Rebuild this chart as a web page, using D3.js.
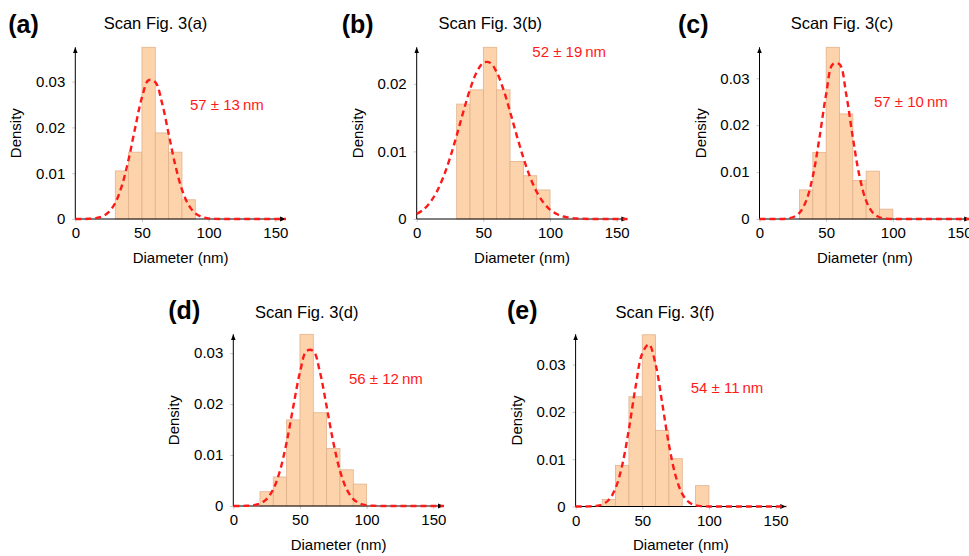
<!DOCTYPE html>
<html>
<head>
<meta charset="utf-8">
<script src="https://cdn.jsdelivr.net/npm/d3@7"></script>
<style>
  body { margin: 0; background: #fff; }
  text { font-family: "Liberation Sans", Arial, Helvetica, sans-serif; }
</style>
</head>
<body>
<div id="chart-area"></div>
<script>
// histogram bins (nm), width 10
const binStarts = [20, 30, 40, 50, 60, 70, 80, 90];
const binWidth = 10;

// densities per bin, null = no bar
const densityA = [null, 0.0105, 0.0146, 0.0375, 0.0188, 0.0146, 0.0042, null];
const densityB = [0, 0.0170, 0.0191, 0.0254, 0.0191, 0.0085, 0.0064, 0.0043];
const densityC = [null, 0.0062, 0.0142, 0.0366, 0.0224, 0.0082, 0.0102, 0.0021];
const densityD = [0.0028, 0.0057, 0.0169, 0.0337, 0.0183, 0.0113, 0.0071, 0.0043];
const densityE = [0.0015, 0.0087, 0.0232, 0.0363, 0.0161, 0.0101, 0, 0.0044];

// fitted curve, every 5 nm
const fitX = [0, 5, 10, 15, 20, 25, 30, 35, 40, 45, 50, 55, 60, 65, 70, 75, 80,
              85, 90, 95, 100, 105, 110, 115, 120, 125, 130, 135, 140, 145, 150, 155, 160];
const fitA = [0, 0, 0.00004, 0.00017, 0.00053, 0.00148, 0.00355, 0.00733, 0.01306, 0.02006, 0.02656,
              0.03034, 0.0299, 0.0254, 0.01862, 0.01177, 0.00642, 0.00302, 0.00123, 0.00043, 0.00013,
              0.00003, 0, 0, 0, 0, 0, 0, 0, 0, 0, 0, 0];
const fitB = [0.00074, 0.00139, 0.00244, 0.00402, 0.00622, 0.00905, 0.01237, 0.01589, 0.01917, 0.02172,
              0.02312, 0.02312, 0.02172, 0.01917, 0.01589, 0.01237, 0.00905, 0.00622, 0.00402, 0.00244,
              0.00139, 0.00074, 0.00037, 0.00018, 0.00008, 0.00003, 0, 0, 0, 0, 0, 0, 0];
const fitC = [0, 0, 0, 0, 0.00008, 0.00037, 0.00133, 0.00387, 0.00912, 0.01735, 0.02664, 0.0330,
              0.0330, 0.02664, 0.01735, 0.00912, 0.00387, 0.00133, 0.00037, 0.00008, 0, 0, 0, 0, 0,
              0, 0, 0, 0, 0, 0, 0, 0];
const fitD = [0, 0.00001, 0.00004, 0.00015, 0.00048, 0.00136, 0.00331, 0.00693, 0.01252, 0.01952,
              0.02625, 0.03043, 0.03043, 0.02625, 0.01952, 0.01252, 0.00693, 0.00331, 0.00136, 0.00048,
              0.00015, 0.00004, 0.00001, 0, 0, 0, 0, 0, 0, 0, 0, 0, 0];
const fitE = [0, 0, 0.00002, 0.00011, 0.00043, 0.00143, 0.0039, 0.00879, 0.0164, 0.02532, 0.03238,
              0.03427, 0.03002, 0.02177, 0.01307, 0.0065, 0.00267, 0.00091, 0.00026, 0.00006, 0.00001,
              0, 0, 0, 0, 0, 0, 0, 0, 0, 0, 0, 0];

const panelLetters = ["(a)", "(b)", "(c)", "(d)", "(e)"];
const panelTitles = ["Scan Fig. 3(a)", "Scan Fig. 3(b)", "Scan Fig. 3(c)", "Scan Fig. 3(d)", "Scan Fig. 3(f)"];
const fitLabels = ["57 \u00b1 13\u2009nm", "52 \u00b1 19\u2009nm", "57 \u00b1 10\u2009nm",
                   "56 \u00b1 12\u2009nm", "54 \u00b1 11\u2009nm"];
const xTicks = [0, 50, 100, 150];
const yTicksList = [[0, 0.01, 0.02, 0.03], [0, 0.01, 0.02], [0, 0.01, 0.02, 0.03],
                    [0, 0.01, 0.02, 0.03], [0, 0.01, 0.02, 0.03]];
const yMaxes = [0.0375, 0.0254, 0.0366, 0.0337, 0.0364];

const densities = [densityA, densityB, densityC, densityD, densityE];
const fits = [fitA, fitB, fitC, fitD, fitE];

// where each small chart sits on the page
const layout = [
    { x0: 75.3,  y0: 219,   h: 171.7, titleX: 155.5, titleY: 29.3,  letterX: 8.3,   letterY: 33,    noteX: 190,   noteY: 110 },
    { x0: 416.7, y0: 219,   h: 171.7, titleX: 490.3, titleY: 29.3,  letterX: 341.7, letterY: 33,    noteX: 532.3, noteY: 56.7 },
    { x0: 759.5, y0: 219,   h: 171.7, titleX: 842,   titleY: 29.3,  letterX: 678,   letterY: 33,    noteX: 874,   noteY: 107.3 },
    { x0: 233.3, y0: 506,   h: 171.7, titleX: 306.7, titleY: 317.7, letterX: 168.3, letterY: 319.3, noteX: 349,   noteY: 384.3 },
    { x0: 575.6, y0: 506.5, h: 172.2, titleX: 665,   titleY: 317.7, letterX: 507,   letterY: 319.3, noteX: 690.7, noteY: 392.7 }
];

let svg = d3.select("#chart-area")
    .append("svg")
        .attr("width", 969)
        .attr("height", 556);

let defs = svg.append("defs");
defs.append("marker")
    .attr("id", "arrow")
    .attr("viewBox", "0 -3 6 6")
    .attr("refX", 6)
    .attr("refY", 0)
    .attr("markerWidth", 6)
    .attr("markerHeight", 6)
    .attr("markerUnits", "userSpaceOnUse")
    .attr("orient", "auto")
  .append("path")
    .attr("d", "M0,-2.4L6,0L0,2.4Z")
    .attr("fill", "#000");

let yFormat = (d) => d === 0 ? "0" : d3.format(".2f")(d);

layout.forEach((p, i) => {
    let g = svg.append("g");

    let x = d3.scaleLinear()
        .domain([0, 150])
        .range([p.x0, p.x0 + 200]);

    let y = d3.scaleLinear()
        .domain([0, yMaxes[i]])
        .range([p.y0, p.y0 - p.h]);

    defs.append("clipPath")
        .attr("id", "clip" + i)
      .append("rect")
        .attr("x", x(0) - 3)
        .attr("y", y.range()[1] - 10)
        .attr("width", x(158) - x(0) + 3)
        .attr("height", p.h + 14);

    // tick marks + labels
    let xAxisCall = d3.axisBottom(x)
        .tickValues(xTicks)
        .tickSize(3)
        .tickPadding(5.6);
    let xg = g.append("g")
        .attr("transform", `translate(0, ${p.y0})`)
        .call(xAxisCall);

    let yAxisCall = d3.axisLeft(y)
        .tickValues(yTicksList[i])
        .tickSize(3)
        .tickPadding(7)
        .tickFormat(yFormat);
    let yg = g.append("g")
        .attr("transform", `translate(${p.x0}, 0)`)
        .call(yAxisCall);

    [xg, yg].forEach((a) => {
        a.select(".domain").remove();
        a.selectAll(".tick line").attr("stroke", "#c8c8c8");
        a.selectAll(".tick text")
            .attr("font-size", "15px")
            .attr("font-family", "'Liberation Sans', Arial, sans-serif")
            .attr("fill", "#000");
    });

    // histogram
    let bars = binStarts
        .map((b, j) => ({ start: b, density: densities[i][j] }))
        .filter((d) => d.density !== null);

    g.selectAll("rect.bar")
        .data(bars)
        .enter()
        .append("rect")
            .attr("class", "bar")
            .attr("x", (d) => x(d.start))
            .attr("y", (d) => y(d.density))
            .attr("width", (d) => x(d.start + binWidth) - x(d.start))
            .attr("height", (d) => y(0) - y(d.density))
            .attr("fill", "#fcd3aa")
            .attr("stroke", "#e2b28e")
            .attr("stroke-width", 0.8);

    // axis lines with arrows
    g.append("line")
        .attr("x1", x(0)).attr("x2", x(158))
        .attr("y1", y(0)).attr("y2", y(0))
        .attr("stroke", "#000")
        .attr("stroke-width", 1)
        .attr("marker-end", "url(#arrow)");
    g.append("line")
        .attr("x1", x(0)).attr("x2", x(0))
        .attr("y1", y(0)).attr("y2", y.range()[1])
        .attr("stroke", "#000")
        .attr("stroke-width", 1)
        .attr("marker-end", "url(#arrow)");

    // fitted curve
    let line = d3.line()
        .x((d) => x(d[0]))
        .y((d) => y(d[1]))
        .curve(d3.curveCatmullRom.alpha(0.5));

    g.append("path")
        .datum(fitX.map((v, j) => [v, fits[i][j]]))
        .attr("clip-path", `url(#clip${i})`)
        .attr("d", line)
        .attr("fill", "none")
        .attr("stroke", "#ff1a1a")
        .attr("stroke-width", 2.4)
        .attr("stroke-dasharray", "6,4");

    // texts
    g.append("text")
        .attr("x", (x(0) + x(158)) / 2)
        .attr("y", p.y0 + 43.7)
        .attr("font-size", "15px")
        .attr("text-anchor", "middle")
        .text("Diameter (nm)");

    g.append("text")
        .attr("transform", `translate(${p.x0 - 54}, ${p.y0 - p.h / 2}) rotate(-90)`)
        .attr("font-size", "15px")
        .attr("text-anchor", "middle")
        .text("Density");

    g.append("text")
        .attr("x", p.titleX)
        .attr("y", p.titleY)
        .attr("font-size", "16.5px")
        .attr("text-anchor", "middle")
        .text(panelTitles[i]);

    g.append("text")
        .attr("x", p.letterX)
        .attr("y", p.letterY)
        .attr("font-size", "25px")
        .attr("font-weight", "bold")
        .text(panelLetters[i]);

    g.append("text")
        .attr("x", p.noteX)
        .attr("y", p.noteY)
        .attr("font-size", "15px")
        .attr("fill", "#ff1a1a")
        .text(fitLabels[i]);
});
</script>
</body>
</html>
